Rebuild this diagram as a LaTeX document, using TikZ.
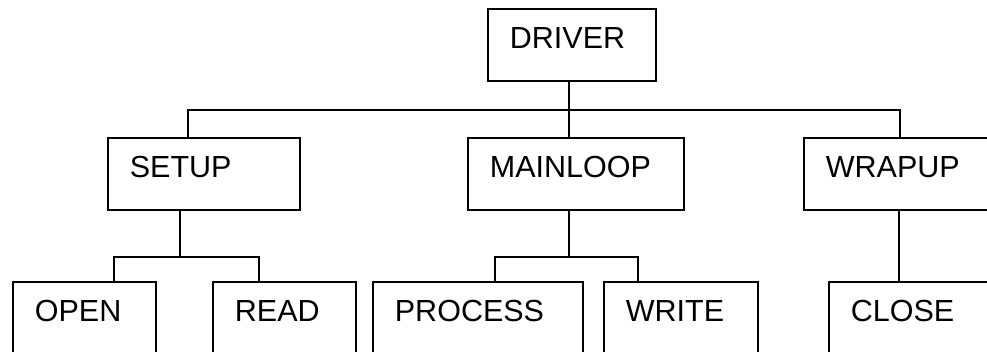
\documentclass[tikz,border=0pt]{standalone}
\usepackage{fontspec}
\setmainfont{Liberation Sans}
\usetikzlibrary{positioning}

\begin{document}
\begin{tikzpicture}[
  x=1pt, y=-1pt,
  mod/.style={draw=black, line width=1.8pt, anchor=north west, align=left,
              font=\fontsize{30.5}{36}\selectfont, inner xsep=22pt, inner ysep=0pt,
              text height=40pt, text depth=32pt},
  lnk/.style={line width=1.8pt, draw=black}
]
\useasboundingbox (0,0) rectangle (987,351);
\clip (0,0) rectangle (987,351);

% top level
\node[mod, text width=124pt] (driver) at (487,8) {DRIVER};

% second level
\node[mod, text width=148pt] (setup) at (107,137) {SETUP};
\node[mod, text width=172pt] (mainloop) at (467,137) {MAINLOOP};
\node[mod, text width=176pt] (wrapup) at (803,137) {WRAPUP};

% third level
\node[mod, text width=99pt] (open) at (12,281) {OPEN};
\node[mod, text width=99pt] (read) at (212,281) {READ};
\node[mod, text width=166pt] (process) at (372,281) {PROCESS};
\node[mod, text width=110pt] (write) at (603,281) {WRITE};
\node[mod, text width=156pt] (close) at (828,281) {CLOSE};

% bus junctions
\coordinate (topbus) at (569,110);
\coordinate (setupbus) at (180,257);
\coordinate (mainbus) at (569,257);

\draw[lnk] (569,0 |- driver.south) -- (topbus);
\draw[lnk] (188,0 |- setup.north) |- (topbus) -| (900,0 |- wrapup.north);
\draw[lnk] (topbus) -- (569,0 |- mainloop.north);

\draw[lnk] (180,0 |- setup.south) -- (setupbus);
\draw[lnk] (114,0 |- open.north) |- (setupbus) -| (259,0 |- read.north);

\draw[lnk] (569,0 |- mainloop.south) -- (mainbus);
\draw[lnk] (495,0 |- process.north) |- (mainbus) -| (638,0 |- write.north);

\draw[lnk] (899,0 |- wrapup.south) -- (899,0 |- close.north);
\end{tikzpicture}
\end{document}
